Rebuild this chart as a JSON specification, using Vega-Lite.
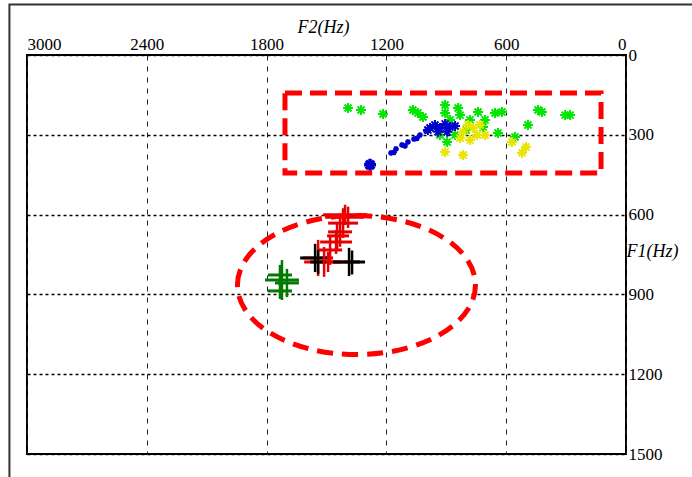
{
  "$schema": "https://vega.github.io/schema/vega-lite/v6.json",
  "width": 599,
  "height": 399,
  "autosize": {"type": "none"},
  "padding": {"left": 27, "top": 55, "right": 66, "bottom": 23},
  "background": "white",
  "config": {
    "view": {"stroke": "black", "strokeWidth": 2},
    "axis": {"labelFont": "Liberation Serif", "titleFont": "Liberation Serif", "labelColor": "black", "titleColor": "black"}
  },
  "datasets": {
    "stars": [
      {"F2": 1392, "F1": 199, "group": "A"},
      {"F2": 1327, "F1": 207, "group": "A"},
      {"F2": 1217, "F1": 222, "group": "A"},
      {"F2": 1067, "F1": 207, "group": "A"},
      {"F2": 1042, "F1": 218, "group": "A"},
      {"F2": 1017, "F1": 233, "group": "A"},
      {"F2": 906, "F1": 188, "group": "A"},
      {"F2": 906, "F1": 218, "group": "A"},
      {"F2": 841, "F1": 199, "group": "A"},
      {"F2": 831, "F1": 226, "group": "A"},
      {"F2": 896, "F1": 327, "group": "A"},
      {"F2": 741, "F1": 214, "group": "A"},
      {"F2": 656, "F1": 218, "group": "A"},
      {"F2": 621, "F1": 214, "group": "A"},
      {"F2": 441, "F1": 207, "group": "A"},
      {"F2": 421, "F1": 214, "group": "A"},
      {"F2": 305, "F1": 226, "group": "A"},
      {"F2": 280, "F1": 226, "group": "A"},
      {"F2": 491, "F1": 263, "group": "A"},
      {"F2": 641, "F1": 293, "group": "A"},
      {"F2": 556, "F1": 308, "group": "A"},
      {"F2": 706, "F1": 244, "group": "A"},
      {"F2": 716, "F1": 271, "group": "A"},
      {"F2": 947, "F1": 271, "group": "A"},
      {"F2": 881, "F1": 244, "group": "A"},
      {"F2": 781, "F1": 244, "group": "A"},
      {"F2": 801, "F1": 282, "group": "A"},
      {"F2": 932, "F1": 301, "group": "A"},
      {"F2": 856, "F1": 301, "group": "A"},
      {"F2": 906, "F1": 365, "group": "B"},
      {"F2": 816, "F1": 376, "group": "B"},
      {"F2": 521, "F1": 368, "group": "B"},
      {"F2": 501, "F1": 346, "group": "B"},
      {"F2": 571, "F1": 327, "group": "B"},
      {"F2": 731, "F1": 263, "group": "B"},
      {"F2": 746, "F1": 301, "group": "B"},
      {"F2": 831, "F1": 312, "group": "B"},
      {"F2": 766, "F1": 274, "group": "B"},
      {"F2": 816, "F1": 289, "group": "B"},
      {"F2": 781, "F1": 320, "group": "B"},
      {"F2": 706, "F1": 301, "group": "B"},
      {"F2": 791, "F1": 263, "group": "B"},
      {"F2": 982, "F1": 274, "group": "C"},
      {"F2": 957, "F1": 263, "group": "C"},
      {"F2": 932, "F1": 274, "group": "C"},
      {"F2": 906, "F1": 259, "group": "C"},
      {"F2": 881, "F1": 271, "group": "C"},
      {"F2": 896, "F1": 289, "group": "C"},
      {"F2": 856, "F1": 267, "group": "C"},
      {"F2": 942, "F1": 289, "group": "C"},
      {"F2": 992, "F1": 282, "group": "C"}
    ],
    "bigstar": [
      {"F2": 1282, "F1": 413, "group": "C"}
    ],
    "trail": [
      {"F2": 1177, "F1": 368, "group": "C"},
      {"F2": 1152, "F1": 353, "group": "C"},
      {"F2": 1122, "F1": 338, "group": "C"},
      {"F2": 1092, "F1": 327, "group": "C"},
      {"F2": 1062, "F1": 316, "group": "C"},
      {"F2": 1032, "F1": 301, "group": "C"},
      {"F2": 1002, "F1": 286, "group": "C"},
      {"F2": 1162, "F1": 366, "group": "C"},
      {"F2": 1107, "F1": 342, "group": "C"},
      {"F2": 1047, "F1": 313, "group": "C"}
    ],
    "crosses": [
      {"group": "D", "F2": 1407, "F1": 601, "F2lo": 1297, "F2hi": 1517, "F1lo": 563, "F1hi": 639},
      {"group": "D", "F2": 1392, "F1": 610, "F2lo": 1312, "F2hi": 1507, "F1lo": 570, "F1hi": 650},
      {"group": "D", "F2": 1417, "F1": 632, "F2lo": 1342, "F2hi": 1492, "F1lo": 576, "F1hi": 688},
      {"group": "D", "F2": 1432, "F1": 665, "F2lo": 1372, "F2hi": 1492, "F1lo": 609, "F1hi": 721},
      {"group": "D", "F2": 1447, "F1": 680, "F2lo": 1387, "F2hi": 1497, "F1lo": 630, "F1hi": 730},
      {"group": "D", "F2": 1452, "F1": 703, "F2lo": 1372, "F2hi": 1532, "F1lo": 658, "F1hi": 748},
      {"group": "D", "F2": 1482, "F1": 733, "F2lo": 1422, "F2hi": 1542, "F1lo": 677, "F1hi": 789},
      {"group": "D", "F2": 1512, "F1": 778, "F2lo": 1412, "F2hi": 1612, "F1lo": 722, "F1hi": 834},
      {"group": "D", "F2": 1542, "F1": 763, "F2lo": 1467, "F2hi": 1617, "F1lo": 695, "F1hi": 831},
      {"group": "D", "F2": 1492, "F1": 778, "F2lo": 1422, "F2hi": 1562, "F1lo": 740, "F1hi": 816},
      {"group": "E", "F2": 1557, "F1": 763, "F2lo": 1482, "F2hi": 1632, "F1lo": 710, "F1hi": 816},
      {"group": "E", "F2": 1387, "F1": 778, "F2lo": 1307, "F2hi": 1467, "F1lo": 725, "F1hi": 831},
      {"group": "E", "F2": 1372, "F1": 778, "F2lo": 1332, "F2hi": 1412, "F1lo": 735, "F1hi": 825},
      {"group": "E", "F2": 1542, "F1": 778, "F2lo": 1502, "F2hi": 1582, "F1lo": 733, "F1hi": 823},
      {"group": "F", "F2": 1723, "F1": 846, "F2lo": 1638, "F2hi": 1808, "F1lo": 771, "F1hi": 921},
      {"group": "F", "F2": 1698, "F1": 857, "F2lo": 1638, "F2hi": 1758, "F1lo": 804, "F1hi": 910},
      {"group": "F", "F2": 1733, "F1": 827, "F2lo": 1673, "F2hi": 1793, "F1lo": 789, "F1hi": 865},
      {"group": "F", "F2": 1733, "F1": 887, "F2lo": 1673, "F2hi": 1793, "F1lo": 857, "F1hi": 917}
    ],
    "box": [
      {"F2": 1708, "F2b": 125, "F1": 143, "F1b": 444}
    ],
    "ellipse": [
      {"F2": 1350, "F1": 865}
    ],
    "frame": [
      {"F2": 3088, "F2b": -600, "F1": -190, "F1b": 2500}
    ]
  },
  "layer": [
    {
      "data": {"name": "frame"},
      "mark": {"type": "rect", "fillOpacity": 0, "stroke": "#333333", "strokeWidth": 2},
      "encoding": {
        "x": {"field": "F2", "type": "quantitative"},
        "x2": {"field": "F2b"},
        "y": {"field": "F1", "type": "quantitative"},
        "y2": {"field": "F1b"}
      }
    },
    {
      "data": {"name": "crosses"},
      "mark": {"type": "rule", "strokeWidth": 3},
      "encoding": {
        "x": {"field": "F2lo", "type": "quantitative"},
        "x2": {"field": "F2hi"},
        "y": {"field": "F1", "type": "quantitative"},
        "color": {"field": "group", "type": "nominal", "legend": null}
      }
    },
    {
      "data": {"name": "crosses"},
      "mark": {"type": "rule", "strokeWidth": 2.5},
      "encoding": {
        "x": {"field": "F2", "type": "quantitative"},
        "y": {"field": "F1lo", "type": "quantitative"},
        "y2": {"field": "F1hi"},
        "color": {"field": "group", "type": "nominal", "legend": null}
      }
    },
    {
      "data": {"name": "stars"},
      "mark": {"type": "point", "filled": false, "size": 100, "strokeWidth": 2, "opacity": 1,
        "shape": "M-1,0L1,0M0,-1L0,1M-0.7,-0.7L0.7,0.7M-0.7,0.7L0.7,-0.7"},
      "encoding": {
        "x": {"field": "F2", "type": "quantitative"},
        "y": {"field": "F1", "type": "quantitative"},
        "color": {"field": "group", "type": "nominal", "legend": null}
      }
    },
    {
      "data": {"name": "trail"},
      "mark": {"type": "point", "filled": false, "size": 36, "strokeWidth": 1.5, "opacity": 1,
        "shape": "M-1,0L1,0M0,-1L0,1M-0.7,-0.7L0.7,0.7M-0.7,0.7L0.7,-0.7"},
      "encoding": {
        "x": {"field": "F2", "type": "quantitative"},
        "y": {"field": "F1", "type": "quantitative"},
        "color": {"field": "group", "type": "nominal", "legend": null}
      }
    },
    {
      "data": {"name": "bigstar"},
      "mark": {"type": "point", "filled": false, "size": 144, "strokeWidth": 3.5, "opacity": 1,
        "shape": "M-1,0L1,0M0,-1L0,1M-0.7,-0.7L0.7,0.7M-0.7,0.7L0.7,-0.7"},
      "encoding": {
        "x": {"field": "F2", "type": "quantitative"},
        "y": {"field": "F1", "type": "quantitative"},
        "color": {"field": "group", "type": "nominal", "legend": null}
      }
    },
    {
      "data": {"name": "box"},
      "mark": {"type": "rect", "fillOpacity": 0, "stroke": "#ff0000", "strokeWidth": 5, "strokeDash": [17, 8]},
      "encoding": {
        "x": {"field": "F2", "type": "quantitative"},
        "x2": {"field": "F2b"},
        "y": {"field": "F1", "type": "quantitative"},
        "y2": {"field": "F1b"}
      }
    },
    {
      "data": {"name": "ellipse"},
      "mark": {"type": "point", "filled": false, "size": 56644, "stroke": "#ff0000", "strokeWidth": 5, "strokeDash": [16, 9], "opacity": 1,
        "shape": "M-1,0C-1,-0.3226,-0.5523,-0.584,0,-0.584C0.5523,-0.584,1,-0.3226,1,0C1,0.3226,0.5523,0.584,0,0.584C-0.5523,0.584,-1,0.3226,-1,0Z"},
      "encoding": {
        "x": {"field": "F2", "type": "quantitative"},
        "y": {"field": "F1", "type": "quantitative"}
      }
    }
  ],
  "resolve": {"scale": {"color": "shared"}},
  "encoding": {
    "x": {
      "type": "quantitative",
      "scale": {"domain": [0, 3000], "reverse": true, "nice": false, "zero": false},
      "axis": {
        "orient": "top", "values": [0, 600, 1200, 1800, 2400, 3000], "format": "d", "domain": false, "ticks": false,
        "labelFontSize": 17, "labelPadding": 2, "labelFlush": true,
        "grid": true, "gridColor": "#222222", "gridDash": [5, 6], "gridWidth": 1, "gridOpacity": 1,
        "title": "F2(Hz)", "titleFontSize": 18, "titleFontStyle": "italic", "titleFontWeight": "normal",
        "titleBaseline": "bottom", "titleY": -19, "titleX": 296
      }
    },
    "y": {
      "type": "quantitative",
      "scale": {"domain": [0, 1500], "reverse": true, "nice": false, "zero": false},
      "axis": {
        "orient": "right", "values": [0, 300, 600, 900, 1200, 1500], "format": "d", "domain": false, "ticks": false,
        "labelFontSize": 17, "labelPadding": 2, "labelFlush": false, "labelBaseline": "middle",
        "grid": true, "gridColor": "black", "gridDash": [3, 3], "gridWidth": 1.5, "gridOpacity": 1,
        "title": "F1(Hz)", "titleFontSize": 18, "titleFontStyle": "italic", "titleFontWeight": "normal",
        "titleAngle": 0, "titleAlign": "left", "titleBaseline": "middle", "titleX": 0, "titleY": 196
      }
    },
    "color": {
      "scale": {"domain": ["A", "B", "C", "D", "E", "F"], "range": ["#00e600", "#e6e600", "#0000cc", "#e80000", "#000000", "#007a00"]}
    }
  }
}
